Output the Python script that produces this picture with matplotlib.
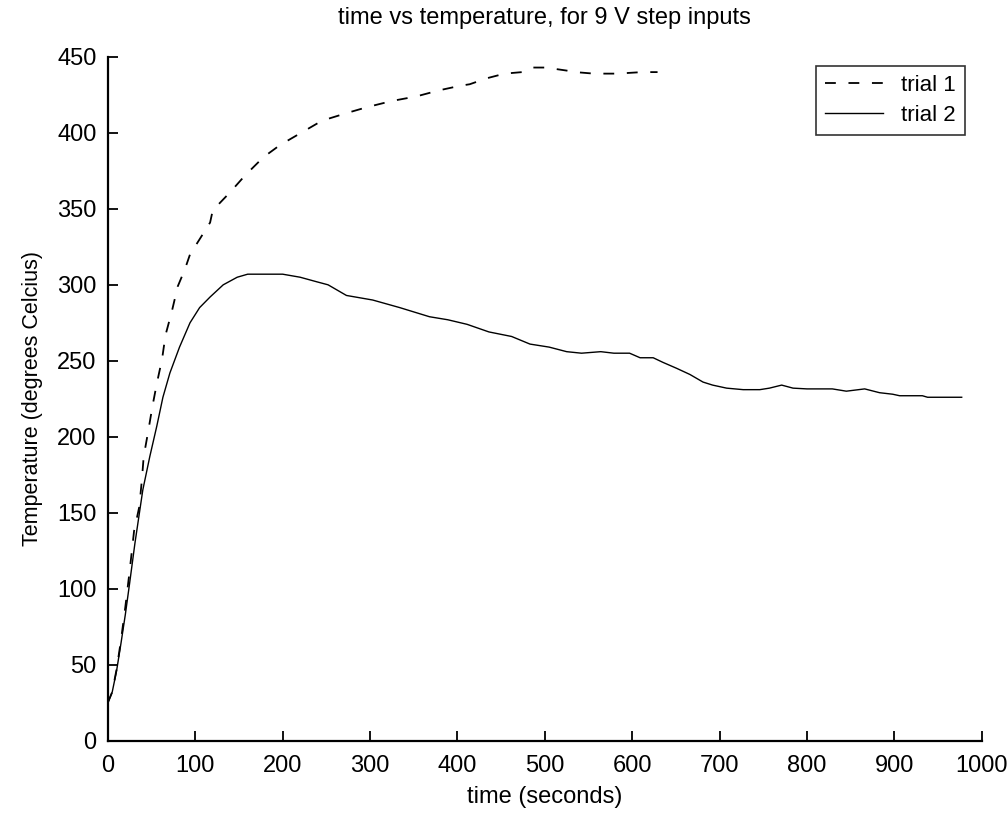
"""
Time vs temperature for 9 V step inputs, two trials.
"""

import numpy as np
import matplotlib.pyplot as plt

plt.rcParams['font.family'] = ['Liberation Sans', 'DejaVu Sans']

#=============================
# data
#=============================

trial1_t = [0, 5, 10, 15, 20, 25, 30, 36, 39, 41, 46, 51, 56, 62, 66, 73, 80, 88,
            94, 105, 117, 120, 140, 157, 178, 197, 218, 245, 273, 297, 325, 353,
            379, 403, 414, 434, 454, 474, 486, 501, 525, 535, 556, 583, 611, 629]
trial1_temp = [25, 32, 47, 66, 88, 112, 138, 154, 172, 187, 203, 220, 235, 251,
               267, 282, 299, 310, 320, 330, 341, 349, 361, 372, 384, 392, 399,
               408, 413, 417, 421, 424, 428, 431, 432, 436, 439, 440, 443, 443,
               441, 440, 439, 439, 440, 440]

trial2_t = [0, 5, 10, 15, 20, 25, 31, 40, 48, 56, 63, 71, 82, 94, 105, 117, 132,
            148, 160, 200, 220, 239, 252, 273, 303, 334, 351, 368, 389, 411, 436,
            462, 483, 505, 525, 542, 564, 579, 597, 609, 624, 635, 651, 666, 681,
            692, 708, 727, 746, 757, 771, 784, 800, 829, 845, 866, 883, 898, 906,
            932, 938, 977]
trial2_temp = [25, 32, 46, 64, 83, 104, 130, 165, 187, 207, 226, 242, 259, 275,
               285, 292, 300, 305, 307, 307, 305, 302, 300, 293, 290, 285, 282,
               279, 277, 274, 269, 266, 261, 259, 256, 255, 256, 255, 255, 252,
               252, 249, 245, 241, 236, 234, 232, 231, 231, 232, 234, 232, 231.5,
               231.5, 230, 231.5, 229, 228, 227, 227, 226, 226]

x_ticks = np.arange(0, 1001, 100)
y_ticks = np.arange(0, 451, 50)

#=============================
# plot
#=============================

fig = plt.figure(figsize=(10.08, 8.13), dpi=100)
ax = fig.add_axes([0.107, 0.089, 0.867, 0.841])

ax.plot(trial1_t, trial1_temp, color='black', lw=1.3, dashes=(6, 7), label='trial 1')
ax.plot(trial2_t, trial2_temp, color='black', lw=1.0, label='trial 2')

ax.set_xlim(0, 1000)
ax.set_ylim(0, 450)
ax.set_xticks(x_ticks)
ax.set_yticks(y_ticks)

for side in ['top', 'right']:
    ax.spines[side].set_visible(False)
for side in ['left', 'bottom']:
    ax.spines[side].set_linewidth(1.6)

ax.tick_params(direction='in', length=7, width=1.3, labelsize=17)
ax.tick_params(axis='x', pad=10)
ax.tick_params(axis='y', pad=8)

ax.set_title('time vs temperature, for 9 V step inputs', fontsize=17, pad=24)
ax.set_xlabel('time (seconds)', fontsize=17, labelpad=7)
ax.set_ylabel('Temperature (degrees Celcius)', fontsize=15.5, labelpad=10)

leg = ax.legend(loc='upper right', fontsize=16, frameon=True, fancybox=False,
                handlelength=2.6, borderpad=0.4, labelspacing=0.4,
                bbox_to_anchor=(0.993, 1.003))
leg.get_frame().set_edgecolor('black')
leg.get_frame().set_linewidth(1.2)

fig.savefig('out.png', dpi=100)
